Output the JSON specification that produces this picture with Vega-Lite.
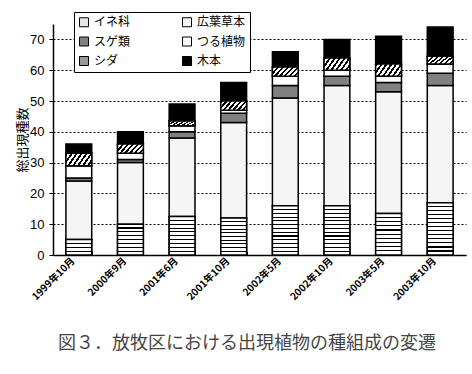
{
  "$schema": "https://vega.github.io/schema/vega-lite/v6.json",
  "width": 413,
  "height": 231,
  "autosize": {"type": "none"},
  "padding": {"left": 53, "top": 24, "right": 6, "bottom": 119},
  "background": "white",
  "config": {"view": {"stroke": null}},
  "title": {
    "text": "図３．放牧区における出現植物の種組成の変遷",
    "orient": "bottom",
    "anchor": "start",
    "frame": "group",
    "dx": 5,
    "offset": 33,
    "baseline": "top",
    "font": "Noto Sans CJK JP",
    "fontSize": 18,
    "fontWeight": 400,
    "color": "#444444"
  },
  "data": {
    "values": [
      {"date": "1999年10月", "type": "イネ科", "value": 5},
      {"date": "1999年10月", "type": "広葉草本", "value": 19},
      {"date": "1999年10月", "type": "スゲ類", "value": 1},
      {"date": "1999年10月", "type": "つる植物", "value": 4},
      {"date": "1999年10月", "type": "シダ", "value": 4},
      {"date": "1999年10月", "type": "木本", "value": 3},
      {"date": "2000年9月", "type": "イネ科", "value": 10},
      {"date": "2000年9月", "type": "広葉草本", "value": 20},
      {"date": "2000年9月", "type": "スゲ類", "value": 1},
      {"date": "2000年9月", "type": "つる植物", "value": 2},
      {"date": "2000年9月", "type": "シダ", "value": 3},
      {"date": "2000年9月", "type": "木本", "value": 4},
      {"date": "2001年6月", "type": "イネ科", "value": 12.5},
      {"date": "2001年6月", "type": "広葉草本", "value": 25.5},
      {"date": "2001年6月", "type": "スゲ類", "value": 2},
      {"date": "2001年6月", "type": "つる植物", "value": 2},
      {"date": "2001年6月", "type": "シダ", "value": 1.5},
      {"date": "2001年6月", "type": "木本", "value": 5.5},
      {"date": "2001年10月", "type": "イネ科", "value": 12},
      {"date": "2001年10月", "type": "広葉草本", "value": 31},
      {"date": "2001年10月", "type": "スゲ類", "value": 3},
      {"date": "2001年10月", "type": "つる植物", "value": 1},
      {"date": "2001年10月", "type": "シダ", "value": 3},
      {"date": "2001年10月", "type": "木本", "value": 6},
      {"date": "2002年5月", "type": "イネ科", "value": 16},
      {"date": "2002年5月", "type": "広葉草本", "value": 35},
      {"date": "2002年5月", "type": "スゲ類", "value": 4},
      {"date": "2002年5月", "type": "つる植物", "value": 3},
      {"date": "2002年5月", "type": "シダ", "value": 3},
      {"date": "2002年5月", "type": "木本", "value": 5},
      {"date": "2002年10月", "type": "イネ科", "value": 16},
      {"date": "2002年10月", "type": "広葉草本", "value": 39},
      {"date": "2002年10月", "type": "スゲ類", "value": 3},
      {"date": "2002年10月", "type": "つる植物", "value": 2},
      {"date": "2002年10月", "type": "シダ", "value": 4},
      {"date": "2002年10月", "type": "木本", "value": 6},
      {"date": "2003年5月", "type": "イネ科", "value": 13.5},
      {"date": "2003年5月", "type": "広葉草本", "value": 39.5},
      {"date": "2003年5月", "type": "スゲ類", "value": 3},
      {"date": "2003年5月", "type": "つる植物", "value": 2},
      {"date": "2003年5月", "type": "シダ", "value": 4},
      {"date": "2003年5月", "type": "木本", "value": 9},
      {"date": "2003年10月", "type": "イネ科", "value": 17},
      {"date": "2003年10月", "type": "広葉草本", "value": 38},
      {"date": "2003年10月", "type": "スゲ類", "value": 4},
      {"date": "2003年10月", "type": "つる植物", "value": 3},
      {"date": "2003年10月", "type": "シダ", "value": 2.5},
      {"date": "2003年10月", "type": "木本", "value": 9.5}
    ]
  },
  "transform": [
    {"stack": "value", "groupby": ["date"], "as": ["y0", "y1"]}
  ],
  "encoding": {
    "x": {
      "field": "date",
      "type": "nominal",
      "sort": null,
      "scale": {"paddingInner": 0.5, "paddingOuter": 0.25},
      "axis": {
        "title": null,
        "labelAngle": -45,
        "labelAlign": "right",
        "labelBaseline": "middle",
        "labelFont": "Noto Sans CJK JP",
        "labelFontSize": 10,
        "labelFontWeight": "bold",
        "labelColor": "#000000",
        "labelPadding": 8,
        "labelOffset": -6,
        "domainColor": "#000000",
        "domainWidth": 1.5,
        "tickColor": "#000000",
        "tickSize": -4,
        "tickBand": "extent",
        "grid": false
      }
    },
    "y": {
      "field": "y1",
      "type": "quantitative",
      "scale": {"domain": [0, 75], "nice": false},
      "axis": {
        "title": "総出現種数",
        "titleFont": "Noto Sans CJK JP",
        "titleFontSize": 13,
        "titleFontWeight": "normal",
        "titleColor": "#000000",
        "titlePadding": 0,
        "values": [0, 10, 20, 30, 40, 50, 60, 70],
        "labelFont": "Liberation Sans",
        "labelFontSize": 13,
        "labelColor": "#000000",
        "labelPadding": 5,
        "tickColor": "#000000",
        "tickSize": 4,
        "domainColor": "#000000",
        "domainWidth": 1.5,
        "grid": true,
        "gridColor": "#000000",
        "gridDash": [2, 2],
        "gridWidth": 1
      }
    },
    "y2": {"field": "y0"}
  },
  "layer": [
    {
      "mark": {"type": "bar", "stroke": "#000000", "strokeWidth": 1.5},
      "encoding": {
        "fill": {
          "field": "type",
          "type": "nominal",
          "sort": ["イネ科", "広葉草本", "スゲ類", "つる植物", "シダ", "木本"],
          "scale": {
            "domain": ["イネ科", "広葉草本", "スゲ類", "つる植物", "シダ", "木本"],
            "range": ["#e6e6e6", "#f5f5f5", "#808080", "#ffffff", "#999999", "#000000"]
          },
          "legend": {
            "title": null,
            "orient": "none",
            "legendX": 21,
            "legendY": -12,
            "columns": 2,
            "direction": "horizontal",
            "columnPadding": 49,
            "rowPadding": 5.5,
            "padding": 4,
            "strokeColor": "#000000",
            "fillColor": "#ffffff",
            "symbolType": "square",
            "symbolSize": 81,
            "symbolStrokeColor": "#000000",
            "symbolStrokeWidth": 1,
            "labelFont": "Noto Sans CJK JP",
            "labelFontSize": 12,
            "labelColor": "#000000",
            "labelOffset": 4,
            "labelLimit": 200
          }
        }
      }
    },
    {
      "mark": {"type": "bar", "stroke": "#000000", "strokeWidth": 1.5, "fill": {"gradient": "linear", "x1": 0, "y1": 0, "x2": 0, "y2": 1, "stops": [
          {"offset": 0, "color": "#fff"}, {"offset": 0.214, "color": "#fff"}, {"offset": 0.214, "color": "#000"}, {"offset": 0.286, "color": "#000"}, {"offset": 0.286, "color": "#fff"},
          {"offset": 0.464, "color": "#fff"}, {"offset": 0.464, "color": "#000"}, {"offset": 0.536, "color": "#000"}, {"offset": 0.536, "color": "#fff"},
          {"offset": 0.714, "color": "#fff"}, {"offset": 0.714, "color": "#000"}, {"offset": 0.786, "color": "#000"}, {"offset": 0.786, "color": "#fff"},
          {"offset": 1, "color": "#fff"}]}},
      "encoding": {"opacity": {"condition": {"test": "datum.type === 'イネ科' && datum.value < 7", "value": 1}, "value": 0}}
    },
    {
      "mark": {"type": "bar", "stroke": "#000000", "strokeWidth": 1.5, "fill": {"gradient": "linear", "x1": 0, "y1": 0, "x2": 0, "y2": 1, "stops": [
          {"offset": 0, "color": "#fff"},
          {"offset": 0.107, "color": "#fff"}, {"offset": 0.107, "color": "#000"}, {"offset": 0.143, "color": "#000"}, {"offset": 0.143, "color": "#fff"},
          {"offset": 0.232, "color": "#fff"}, {"offset": 0.232, "color": "#000"}, {"offset": 0.268, "color": "#000"}, {"offset": 0.268, "color": "#fff"},
          {"offset": 0.357, "color": "#fff"}, {"offset": 0.357, "color": "#000"}, {"offset": 0.393, "color": "#000"}, {"offset": 0.393, "color": "#fff"},
          {"offset": 0.482, "color": "#fff"}, {"offset": 0.482, "color": "#000"}, {"offset": 0.518, "color": "#000"}, {"offset": 0.518, "color": "#fff"},
          {"offset": 0.607, "color": "#fff"}, {"offset": 0.607, "color": "#000"}, {"offset": 0.643, "color": "#000"}, {"offset": 0.643, "color": "#fff"},
          {"offset": 0.732, "color": "#fff"}, {"offset": 0.732, "color": "#000"}, {"offset": 0.768, "color": "#000"}, {"offset": 0.768, "color": "#fff"},
          {"offset": 0.857, "color": "#fff"}, {"offset": 0.857, "color": "#000"}, {"offset": 0.893, "color": "#000"}, {"offset": 0.893, "color": "#fff"},
          {"offset": 1, "color": "#fff"}]}},
      "encoding": {"opacity": {"condition": {"test": "datum.type === 'イネ科' && datum.value >= 7 && datum.value < 11", "value": 1}, "value": 0}}
    },
    {
      "mark": {"type": "bar", "stroke": "#000000", "strokeWidth": 1.5, "fill": {"gradient": "linear", "x1": 0, "y1": 0, "x2": 0, "y2": 1, "stops": [
          {"offset": 0, "color": "#fff"},
          {"offset": 0.086, "color": "#fff"}, {"offset": 0.086, "color": "#000"}, {"offset": 0.114, "color": "#000"}, {"offset": 0.114, "color": "#fff"},
          {"offset": 0.186, "color": "#fff"}, {"offset": 0.186, "color": "#000"}, {"offset": 0.214, "color": "#000"}, {"offset": 0.214, "color": "#fff"},
          {"offset": 0.286, "color": "#fff"}, {"offset": 0.286, "color": "#000"}, {"offset": 0.314, "color": "#000"}, {"offset": 0.314, "color": "#fff"},
          {"offset": 0.386, "color": "#fff"}, {"offset": 0.386, "color": "#000"}, {"offset": 0.414, "color": "#000"}, {"offset": 0.414, "color": "#fff"},
          {"offset": 0.486, "color": "#fff"}, {"offset": 0.486, "color": "#000"}, {"offset": 0.514, "color": "#000"}, {"offset": 0.514, "color": "#fff"},
          {"offset": 0.586, "color": "#fff"}, {"offset": 0.586, "color": "#000"}, {"offset": 0.614, "color": "#000"}, {"offset": 0.614, "color": "#fff"},
          {"offset": 0.686, "color": "#fff"}, {"offset": 0.686, "color": "#000"}, {"offset": 0.714, "color": "#000"}, {"offset": 0.714, "color": "#fff"},
          {"offset": 0.786, "color": "#fff"}, {"offset": 0.786, "color": "#000"}, {"offset": 0.814, "color": "#000"}, {"offset": 0.814, "color": "#fff"},
          {"offset": 0.886, "color": "#fff"}, {"offset": 0.886, "color": "#000"}, {"offset": 0.914, "color": "#000"}, {"offset": 0.914, "color": "#fff"},
          {"offset": 1, "color": "#fff"}]}},
      "encoding": {"opacity": {"condition": {"test": "datum.type === 'イネ科' && datum.value >= 11 && datum.value < 15", "value": 1}, "value": 0}}
    },
    {
      "mark": {"type": "bar", "stroke": "#000000", "strokeWidth": 1.5, "fill": {"gradient": "linear", "x1": 0, "y1": 0, "x2": 0, "y2": 1, "stops": [
          {"offset": 0, "color": "#fff"},
          {"offset": 0.066, "color": "#fff"}, {"offset": 0.066, "color": "#000"}, {"offset": 0.088, "color": "#000"}, {"offset": 0.088, "color": "#fff"},
          {"offset": 0.143, "color": "#fff"}, {"offset": 0.143, "color": "#000"}, {"offset": 0.165, "color": "#000"}, {"offset": 0.165, "color": "#fff"},
          {"offset": 0.220, "color": "#fff"}, {"offset": 0.220, "color": "#000"}, {"offset": 0.242, "color": "#000"}, {"offset": 0.242, "color": "#fff"},
          {"offset": 0.297, "color": "#fff"}, {"offset": 0.297, "color": "#000"}, {"offset": 0.319, "color": "#000"}, {"offset": 0.319, "color": "#fff"},
          {"offset": 0.374, "color": "#fff"}, {"offset": 0.374, "color": "#000"}, {"offset": 0.396, "color": "#000"}, {"offset": 0.396, "color": "#fff"},
          {"offset": 0.451, "color": "#fff"}, {"offset": 0.451, "color": "#000"}, {"offset": 0.473, "color": "#000"}, {"offset": 0.473, "color": "#fff"},
          {"offset": 0.528, "color": "#fff"}, {"offset": 0.528, "color": "#000"}, {"offset": 0.550, "color": "#000"}, {"offset": 0.550, "color": "#fff"},
          {"offset": 0.604, "color": "#fff"}, {"offset": 0.604, "color": "#000"}, {"offset": 0.626, "color": "#000"}, {"offset": 0.626, "color": "#fff"},
          {"offset": 0.681, "color": "#fff"}, {"offset": 0.681, "color": "#000"}, {"offset": 0.703, "color": "#000"}, {"offset": 0.703, "color": "#fff"},
          {"offset": 0.758, "color": "#fff"}, {"offset": 0.758, "color": "#000"}, {"offset": 0.780, "color": "#000"}, {"offset": 0.780, "color": "#fff"},
          {"offset": 0.835, "color": "#fff"}, {"offset": 0.835, "color": "#000"}, {"offset": 0.857, "color": "#000"}, {"offset": 0.857, "color": "#fff"},
          {"offset": 0.912, "color": "#fff"}, {"offset": 0.912, "color": "#000"}, {"offset": 0.934, "color": "#000"}, {"offset": 0.934, "color": "#fff"},
          {"offset": 1, "color": "#fff"}]}},
      "encoding": {"opacity": {"condition": {"test": "datum.type === 'イネ科' && datum.value >= 15", "value": 1}, "value": 0}}
    },
    {
      "mark": {"type": "bar", "stroke": "#000000", "strokeWidth": 1.5, "fill": {"gradient": "linear", "x1": 0, "y1": 0, "x2": 1.2, "y2": 0.4, "stops": [
          {"offset": 0, "color": "#000"}, {"offset": 0.064, "color": "#000"}, {"offset": 0.064, "color": "#fff"}, {"offset": 0.143, "color": "#fff"},
          {"offset": 0.143, "color": "#000"}, {"offset": 0.207, "color": "#000"}, {"offset": 0.207, "color": "#fff"}, {"offset": 0.286, "color": "#fff"},
          {"offset": 0.286, "color": "#000"}, {"offset": 0.350, "color": "#000"}, {"offset": 0.350, "color": "#fff"}, {"offset": 0.429, "color": "#fff"},
          {"offset": 0.429, "color": "#000"}, {"offset": 0.493, "color": "#000"}, {"offset": 0.493, "color": "#fff"}, {"offset": 0.571, "color": "#fff"},
          {"offset": 0.571, "color": "#000"}, {"offset": 0.635, "color": "#000"}, {"offset": 0.635, "color": "#fff"}, {"offset": 0.714, "color": "#fff"},
          {"offset": 0.714, "color": "#000"}, {"offset": 0.778, "color": "#000"}, {"offset": 0.778, "color": "#fff"}, {"offset": 0.857, "color": "#fff"},
          {"offset": 0.857, "color": "#000"}, {"offset": 0.921, "color": "#000"}, {"offset": 0.921, "color": "#fff"}, {"offset": 1, "color": "#fff"}]}},
      "encoding": {"opacity": {"condition": {"test": "datum.type === 'シダ'", "value": 1}, "value": 0}}
    }
  ]
}
